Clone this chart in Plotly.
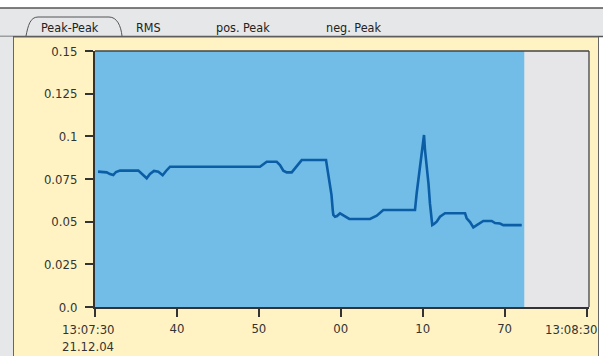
import plotly.graph_objects as go

# ---------------- data ----------------
# seconds after 13:07:30 (21.12.04)
time_s = [0.37, 1.43, 1.83, 2.23, 2.56, 3.05, 5.29, 5.86, 6.31, 6.71, 7.20, 7.73, 8.26, 8.67,
          9.16, 20.14, 20.96, 22.18, 22.58, 22.99, 23.40, 24.01, 24.54, 25.23, 28.20, 28.36,
          28.48, 28.69, 28.87, 29.02, 29.09, 29.30, 29.54, 29.91, 30.31, 31.04, 33.57, 34.39,
          35.19, 39.06, 39.27, 39.58, 39.88, 40.04, 40.16, 40.28, 40.49, 40.71, 40.89, 41.17,
          41.38, 41.71, 42.11, 42.72, 45.17, 45.37, 45.78, 46.18, 46.60, 47.00, 47.40, 48.42,
          48.83, 49.44, 49.84, 52.09]
peak_peak = [0.0793, 0.0789, 0.0779, 0.0773, 0.0791, 0.0799, 0.0799, 0.0773, 0.0754, 0.0779,
             0.0797, 0.0793, 0.0772, 0.0797, 0.0822, 0.0822, 0.0851, 0.0851, 0.0832, 0.0799,
             0.0789, 0.0789, 0.0820, 0.0861, 0.0861, 0.0813, 0.0783, 0.0705, 0.0656, 0.0568,
             0.0539, 0.0529, 0.0533, 0.0549, 0.0539, 0.0516, 0.0516, 0.0535, 0.0568, 0.0568,
             0.0668, 0.0793, 0.0910, 0.0979, 0.1008, 0.0920, 0.0826, 0.0721, 0.0604, 0.0480,
             0.0486, 0.0500, 0.0529, 0.0549, 0.0549, 0.0520, 0.0498, 0.0466, 0.0480, 0.0490,
             0.0504, 0.0504, 0.0492, 0.0489, 0.0480, 0.0480]
recording_end = 52.4

x_tick_vals = [0, 10, 20, 30, 40, 50, 60]
x_tick_text = ["13:07:30<br>21.12.04", "40", "50", "00", "10", "70", "13:08:30"]
y_tick_vals = [0.0, 0.025, 0.05, 0.075, 0.1, 0.125, 0.15]
y_tick_text = ["0.0", "0.025", "0.05", "0.075", "0.1", "0.125", "0.15"]
tab_labels = ["Peak-Peak", "RMS", "pos. Peak", "neg. Peak"]

# ---------------- layout helpers ----------------
W, H = 603, 356
L, R, T, B = 95, 589, 51, 307
FONT = "DejaVu Sans Condensed, Liberation Sans Narrow, Arial Narrow, sans-serif"
CREAM = "#fff3c4"
GRAY = "#e6e7e9"
BLUE = "#72bde8"
LINE = "#0b5ea6"
TXT = "#333"


def px(X):
    return (X - L) / (R - L)


def py(Y):
    return (B - Y) / (B - T)


fig = go.Figure()
fig.add_trace(go.Scatter(x=time_s, y=peak_peak, mode="lines",
                         line=dict(color=LINE, width=2.6), hoverinfo="skip"))

shapes = [
    # tab band
    dict(type="rect", xref="paper", yref="paper", x0=px(-3), x1=px(W + 3), y0=py(36.5), y1=py(8),
         fillcolor=GRAY, line=dict(color="#555", width=1.5), layer="below"),
    # left gray strip
    dict(type="rect", xref="paper", yref="paper", x0=px(-3), x1=px(13), y0=py(H + 3), y1=py(36.5),
         fillcolor=GRAY, line=dict(width=0), layer="below"),
    # cream panel
    dict(type="rect", xref="paper", yref="paper", x0=px(13.5), x1=px(598.5), y0=py(H + 3), y1=py(37),
         fillcolor=CREAM, line=dict(color="#666", width=1), layer="below"),
    # plot area background (unrecorded time)
    dict(type="rect", xref="paper", yref="paper", x0=0, x1=1, y0=0, y1=1,
         fillcolor="#e6e6e8", line=dict(width=0), layer="below"),
    # active tab outline
    dict(type="path", xref="paper", yref="paper", layer="above",
         path=(f"M {px(26)},{py(36)} C {px(28)},{py(26)} {px(30)},{py(17)} {px(38)},{py(17)} "
               f"L {px(109)},{py(17)} C {px(117)},{py(17)} {px(121)},{py(26)} {px(122)},{py(36)}"),
         line=dict(color="#555", width=1)),
    # recorded region
    dict(type="rect", xref="x", yref="paper", x0=0, x1=recording_end, y0=0, y1=1,
         fillcolor=BLUE, line=dict(width=0), layer="below"),
    # top and right plot borders
    dict(type="line", xref="paper", yref="paper", x0=0, x1=1, y0=1, y1=1,
         line=dict(color="#444", width=1.3)),
    dict(type="line", xref="paper", yref="paper", x0=1, x1=1, y0=0, y1=1,
         line=dict(color="#444", width=1.3)),
]

tab_x = [70, 148, 243, 353]
annotations = [
    dict(text=lab, x=px(cx), y=py(27), xref="paper", yref="paper", showarrow=False,
         xanchor="center", yanchor="middle", font=dict(family=FONT, size=12.5, color="#222"))
    for lab, cx in zip(tab_labels, tab_x)
]
# first and last time labels are nudged to sit inside the panel, as in the original
annotations.append(dict(text=x_tick_text[0], x=px(88.5), y=0, xref="paper", yref="paper",
                        showarrow=False, xanchor="center", yanchor="top", yshift=-13,
                        align="left", font=dict(family=FONT, size=13, color=TXT)))
annotations.append(dict(text=x_tick_text[-1], x=px(600), y=0, xref="paper", yref="paper",
                        showarrow=False, xanchor="right", yanchor="top", yshift=-13,
                        font=dict(family=FONT, size=13, color=TXT)))
axis_text = [""] + x_tick_text[1:-1] + [""]

fig.update_layout(
    width=W, height=H,
    margin=dict(l=L, r=W - R, t=T, b=H - B, pad=0),
    paper_bgcolor="white",
    plot_bgcolor="#e6e6e8",
    showlegend=False,
    font=dict(family=FONT, size=13, color=TXT),
    shapes=shapes,
    annotations=annotations,
    xaxis=dict(range=[0, 60.3], tickvals=x_tick_vals, ticktext=axis_text, automargin=False,
               showgrid=False, zeroline=False, showline=True, linecolor="#333", linewidth=2,
               ticks="outside", ticklen=8, tickwidth=1.5, tickcolor="#333",
               tickfont=dict(family=FONT, size=13, color=TXT)),
    yaxis=dict(range=[0, 0.15], tickvals=y_tick_vals, ticktext=y_tick_text, automargin=False,
               showgrid=False, zeroline=False, showline=True, linecolor="#333", linewidth=2,
               ticks="outside", ticklen=8, tickwidth=1.5, tickcolor="#333",
               ticklabelstandoff=5,
               tickfont=dict(family=FONT, size=13, color=TXT)),
)

fig.write_html("out.html")
